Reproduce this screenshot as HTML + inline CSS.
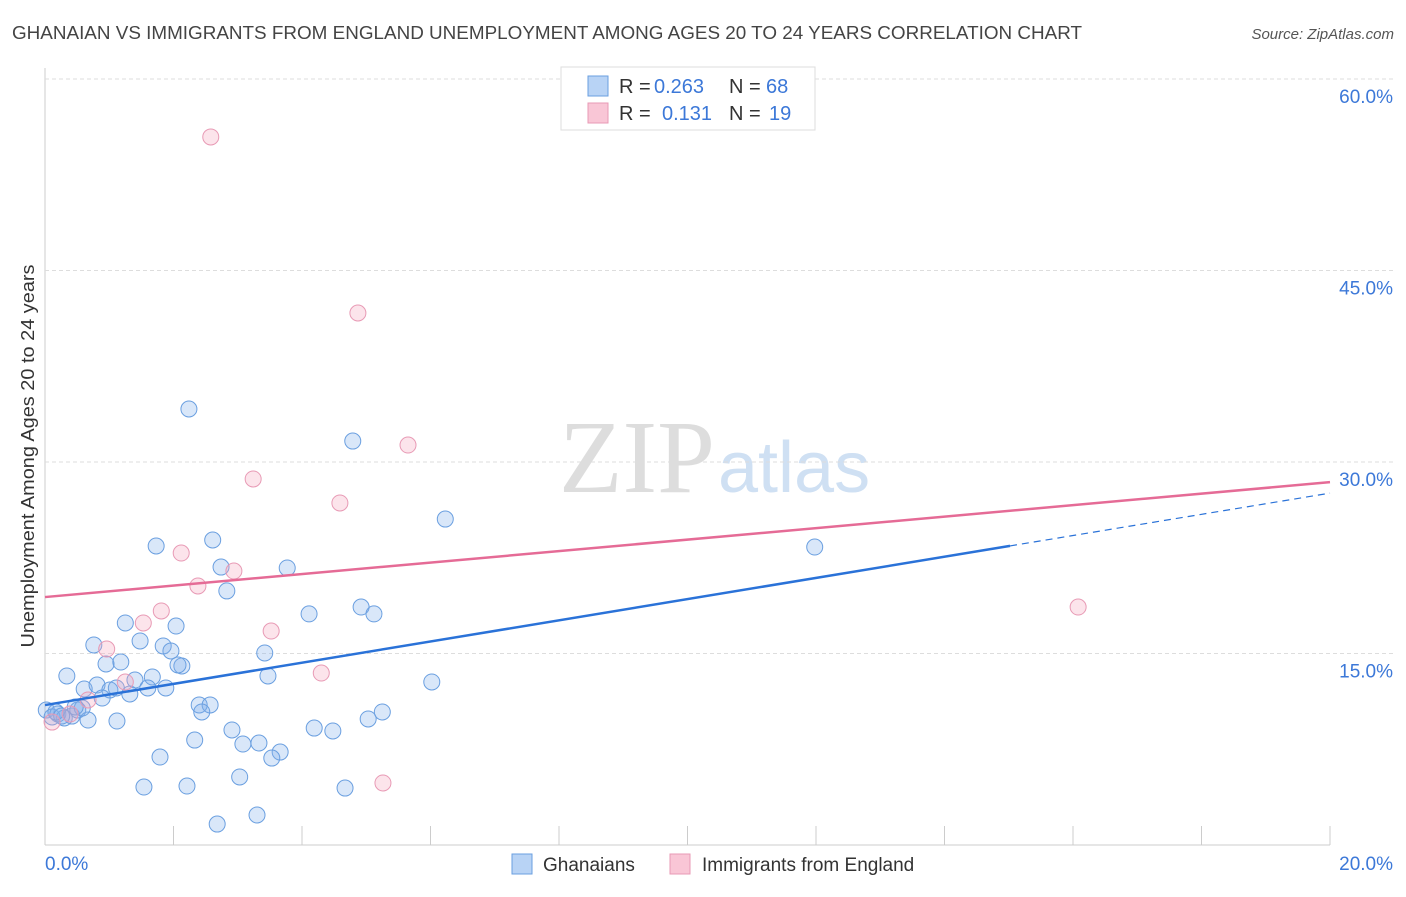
<!DOCTYPE html>
<html><head><meta charset="utf-8"><style>
body{margin:0;background:#fff;font-family:"Liberation Sans",sans-serif;}
svg text{font-family:"Liberation Sans",sans-serif;}
</style></head><body>
<svg id="chart" width="1406" height="892">
<text x="12" y="39" font-size="18.5" fill="#444" textLength="1070" lengthAdjust="spacingAndGlyphs">GHANAIAN VS IMMIGRANTS FROM ENGLAND UNEMPLOYMENT AMONG AGES 20 TO 24 YEARS CORRELATION CHART</text>
<text x="1394" y="39" font-size="15" fill="#555" font-style="italic" text-anchor="end">Source: ZipAtlas.com</text>
<text x="715" y="492" font-size="104" fill="#ddd" text-anchor="end" font-family="Liberation Serif" style="font-family:'Liberation Serif',serif">ZIP</text>
<text x="718" y="492" font-size="72" fill="#cfe0f3">atlas</text>
<text x="34" y="456" font-size="18.5" fill="#333" text-anchor="middle" textLength="383" lengthAdjust="spacingAndGlyphs" transform="rotate(-90 34 456)">Unemployment Among Ages 20 to 24 years</text>
<g id="grid"></g><g id="pts"></g><g id="lines"></g>
<g>
<rect x="561" y="67" width="254" height="63" fill="#fff" stroke="#ddd"/>
<rect x="588" y="76" width="20" height="20" fill="#b8d3f5" stroke="#6a9fe0"/>
<rect x="588" y="103" width="20" height="20" fill="#f9c6d6" stroke="#e89ab5"/>
<text x="619" y="93" font-size="20" fill="#333">R =</text>
<text x="654" y="93" font-size="20" fill="#3c78d8">0.263</text>
<text x="729" y="93" font-size="20" fill="#333">N =</text>
<text x="766" y="93" font-size="20" fill="#3c78d8">68</text>
<text x="619" y="120" font-size="20" fill="#333">R =</text>
<text x="662" y="120" font-size="20" fill="#3c78d8">0.131</text>
<text x="729" y="120" font-size="20" fill="#333">N =</text>
<text x="769" y="120" font-size="20" fill="#3c78d8">19</text>
</g>
<g>
<rect x="512" y="854" width="20" height="20" fill="#b8d3f5" stroke="#6a9fe0"/>
<text x="543" y="871" font-size="19" fill="#333">Ghanaians</text>
<rect x="670" y="854" width="20" height="20" fill="#f9c6d6" stroke="#e89ab5"/>
<text x="702" y="871" font-size="19" fill="#333">Immigrants from England</text>
</g>
<text x="45" y="870" font-size="19" fill="#3c78d8">0.0%</text>
<text x="1393" y="870" font-size="19" fill="#3c78d8" text-anchor="end">20.0%</text>
</svg>
<script>
const yTicks=[15,30,45,60];
const yTickLabels=["15.0%","30.0%","45.0%","60.0%"];
const blueX=[2.24,4.79,6.23,11.98,1.73,2.61,2.74,3.77,2.83,4.11,4.92,5.12,1.25,2.04,0.76,1.48,1.84,1.96,0.95,1.18,2.13,2.07,3.42,3.47,0.34,1.67,1.40,0.61,0.81,1.01,1.11,1.60,1.88,1.32,0.89,6.02,2.40,2.57,2.44,0.02,0.11,0.20,0.30,0.42,0.51,0.67,1.12,5.25,5.03,2.91,4.19,4.48,2.33,3.08,3.33,3.66,3.53,1.79,3.03,1.54,2.21,4.67,3.30,2.68,0.58,0.47,0.17,0.26];
const blueY=[34.15,31.64,25.53,23.34,23.42,23.89,21.77,21.70,19.90,18.10,18.64,18.10,17.39,17.15,15.67,15.98,15.59,15.20,14.18,14.33,14.02,14.10,15.04,13.24,13.24,13.16,12.92,12.22,12.53,12.14,12.30,12.30,12.30,11.83,11.51,12.77,10.97,10.97,10.42,10.57,10.03,10.26,9.95,10.10,10.57,9.79,9.71,10.42,9.87,9.01,9.16,8.93,8.22,7.91,7.99,7.28,6.81,6.89,5.33,4.54,4.62,4.46,2.35,1.64,10.73,10.81,10.42,10.10];
const pinkX=[2.58,4.87,5.65,3.24,4.59,2.12,2.94,2.38,1.81,1.53,3.52,0.96,4.30,1.25,0.67,16.08,5.26,0.11,0.39];
const pinkY=[55.46,41.67,31.33,28.67,26.79,22.87,21.46,20.29,18.33,17.39,16.76,15.35,13.47,12.77,11.36,18.64,4.86,9.63,10.26];
const blueTrend=[10.96,27.56]; const blueSolidEnd=15.02;
const pinkTrend=[19.42,28.42];
const X=v=>45+v*64.25, Y=v=>845-v*12.767;
const NS="http://www.w3.org/2000/svg";
function mk(tag,attrs,parent){const e=document.createElementNS(NS,tag);for(const k in attrs)e.setAttribute(k,attrs[k]);parent.appendChild(e);return e;}
const grid=document.getElementById('grid');
let ax=mk('line',{x1:45,y1:845,x2:1330,y2:845,stroke:'#ccc'},grid);


let ay=mk('line',{x1:45,y1:68,x2:45,y2:845,stroke:'#ccc'},grid);


for(let i=1;i<=10;i++){let t=mk('line',{x1:X(i*2),y1:826,x2:X(i*2),y2:845,stroke:'#ccc'},grid);

}
yTicks.forEach((v,i)=>{let g=mk('line',{x1:45,y1:Y(v),x2:1393,y2:Y(v),stroke:'#ddd','stroke-dasharray':'4,3'},grid);


let t=mk('text',{x:1393,y:Y(v)+24,'font-size':19,fill:'#3c78d8','text-anchor':'end'},grid);t.textContent=yTickLabels[i];

});
const pts=document.getElementById('pts');
blueX.forEach((x,i)=>{let c=mk('circle',{cx:X(x),cy:Y(blueY[i]),r:8,fill:'rgba(130,175,235,0.3)',stroke:'#6a9fe0','stroke-width':1},pts);

});
pinkX.forEach((x,i)=>{let c=mk('circle',{cx:X(x),cy:Y(pinkY[i]),r:8,fill:'rgba(245,165,190,0.3)',stroke:'#e89ab5','stroke-width':1},pts);

});
const lines=document.getElementById('lines');
const bAt=v=>blueTrend[0]+(blueTrend[1]-blueTrend[0])*v/20;
let l1=mk('line',{x1:X(0),y1:Y(blueTrend[0]),x2:X(blueSolidEnd),y2:Y(bAt(blueSolidEnd)),stroke:'#2a72d8','stroke-width':2.5},lines);


let l2=mk('line',{x1:X(blueSolidEnd),y1:Y(bAt(blueSolidEnd)),x2:X(20),y2:Y(blueTrend[1]),stroke:'#2a72d8','stroke-width':1.2,'stroke-dasharray':'7,5'},lines);


let l3=mk('line',{x1:X(0),y1:Y(pinkTrend[0]),x2:X(20),y2:Y(pinkTrend[1]),stroke:'#e56b96','stroke-width':2.5},lines);


</script>
</body></html>
